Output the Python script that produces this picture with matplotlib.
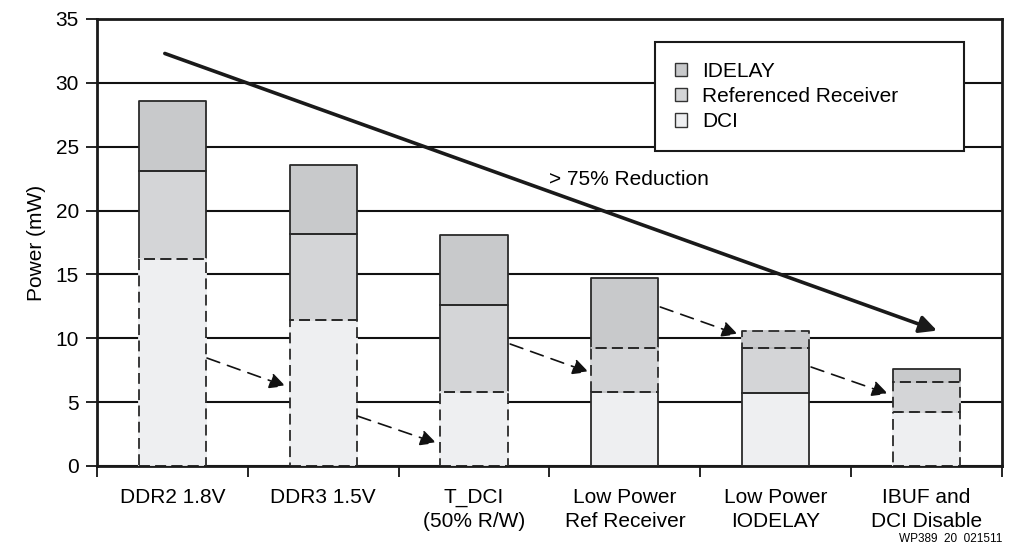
import matplotlib
matplotlib.use('Agg')
import matplotlib.pyplot as plt
from matplotlib.patches import Patch
import numpy as np

plt.rcParams['font.family'] = ['Liberation Sans', 'DejaVu Sans']

categories = ['DDR2 1.8V', 'DDR3 1.5V', 'T_DCI\n(50% R/W)', 'Low Power\nRef Receiver',
              'Low Power\nIODELAY', 'IBUF and\nDCI Disable']
dci = [16.2, 11.4, 5.8, 5.8, 5.7, 4.2]
ref_receiver = [6.9, 6.8, 6.8, 3.4, 3.5, 2.35]
idelay = [5.5, 5.4, 5.5, 5.5, 1.4, 1.05]

# which segments are outlined with a dashed line (the ones being cut)
dci_dashed = [True, True, True, False, False, True]
rr_dashed = [False, False, False, True, False, True]
idelay_dashed = [False, False, False, False, True, False]

# dashed step arrows: (x_start, y_start, x_end, y_end) in data units
step_arrows = [(0.23, 8.45, 0.75, 6.25),
               (1.23, 3.9, 1.75, 1.8),
               (2.24, 9.55, 2.76, 7.35),
               (3.235, 12.45, 3.75, 10.3),
               (4.235, 7.75, 4.745, 5.65)]
trend_arrow = (-0.05, 32.3, 5.07, 10.6)

c_dci = '#eeeff1'
c_rr = '#d4d5d7'
c_idelay = '#c8c9cb'
edge = '#2a2a2a'

fig = plt.figure(figsize=(10.12, 5.52), dpi=100)
ax = fig.add_axes([0.0958, 0.1558, 0.8942, 0.8098])

x = np.arange(len(categories))
w = 0.445
b1 = ax.bar(x, dci, w, color=c_dci, lw=0, zorder=2)
b2 = ax.bar(x, ref_receiver, w, bottom=dci, color=c_rr, lw=0, zorder=2)
b3 = ax.bar(x, idelay, w, bottom=np.add(dci, ref_receiver), color=c_idelay, lw=0, zorder=2)


def outline(rect, dashed, fc):
    x0, y0 = rect.get_x(), rect.get_y()
    x1, y1 = x0 + rect.get_width(), y0 + rect.get_height()
    xs = [x0, x1, x1, x0, x0]
    ys = [y0, y0, y1, y1, y0]
    if dashed:
        ax.plot(xs, ys, color=edge, lw=1.3, linestyle=(0, (6, 3)), gapcolor=fc,
                zorder=4, solid_capstyle='butt')
    else:
        ax.plot(xs, ys, color=edge, lw=1.3, zorder=3)


segments = [(b1, dci_dashed, c_dci), (b2, rr_dashed, c_rr), (b3, idelay_dashed, c_idelay)]
for container, flags, fc in segments:
    for rect, d in zip(container, flags):
        if not d:
            outline(rect, False, fc)
for container, flags, fc in segments:
    for rect, d in zip(container, flags):
        if d:
            outline(rect, True, fc)

for xs, ys, xe, ye in step_arrows:
    ax.annotate('', xy=(xe, ye), xytext=(xs, ys),
                arrowprops=dict(arrowstyle='-|>', color='#111111', lw=1.2,
                                linestyle=(0, (8, 5)), mutation_scale=24,
                                shrinkA=0, shrinkB=0), zorder=5)

xs, ys, xe, ye = trend_arrow
ax.annotate('', xy=(xe, ye), xytext=(xs, ys),
            arrowprops=dict(arrowstyle='-|>', color='#1a1a1a', lw=2.6,
                            mutation_scale=26, shrinkA=0, shrinkB=0), zorder=5)
ax.text(2.5, 22.4, '> 75% Reduction', fontsize=15, ha='left', va='center', zorder=6)

ax.set_xlim(-0.5, 5.5)
ax.set_ylim(0, 35)
ax.set_yticks(np.arange(0, 36, 5))
ax.set_axisbelow(True)
ax.yaxis.grid(True, color='#111111', lw=1.5)
ax.set_xticks(np.arange(-0.5, 6, 1))
ax.set_xticklabels([])
ax.set_xticks(x, minor=True)
ax.set_xticklabels(categories, minor=True, fontsize=15, linespacing=1.3)
ax.tick_params(axis='x', which='major', length=8, width=1.2, direction='out')
ax.tick_params(axis='x', which='minor', length=0, pad=16)
ax.tick_params(axis='y', length=8, width=1.2, labelsize=15, pad=5)
for s in ax.spines.values():
    s.set_linewidth(2)
    s.set_color('#1a1a1a')
ax.set_ylabel('Power (mW)', fontsize=15, labelpad=7)

handles = [Patch(facecolor=c_idelay, edgecolor='#333333', lw=1),
           Patch(facecolor=c_rr, edgecolor='#333333', lw=1),
           Patch(facecolor=c_dci, edgecolor='#333333', lw=1)]
leg = ax.legend(handles, ['IDELAY', 'Referenced Receiver', 'DCI'], loc='upper left',
                bbox_to_anchor=(0.6166, 0.707, 0.3414, 0.2415), mode='expand',
                fontsize=15, frameon=True, fancybox=False, borderpad=0.95,
                labelspacing=0.3, handlelength=0.6, handleheight=0.6,
                handletextpad=0.7, borderaxespad=0)
leg.get_frame().set_edgecolor('#1a1a1a')
leg.get_frame().set_linewidth(1.5)
leg.get_frame().set_alpha(1)
leg.set_zorder(10)

fig.text(0.99, 0.012, 'WP389  20  021511', fontsize=8.5, ha='right', va='bottom')

fig.savefig('out.png', dpi=100)
